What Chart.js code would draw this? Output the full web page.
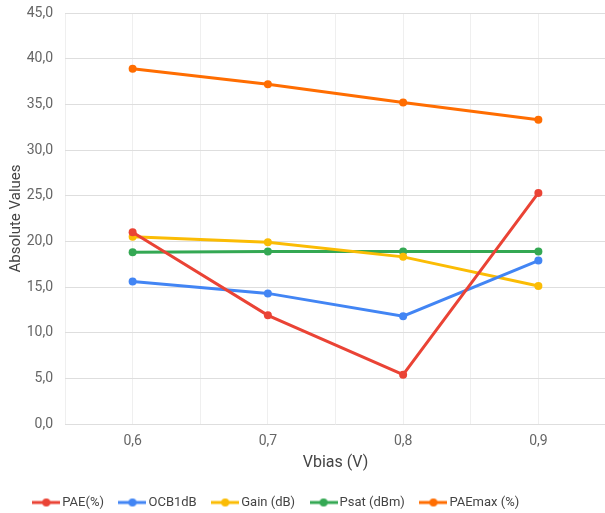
<!DOCTYPE html>
<html>
<head>
<meta charset="utf-8">
<script src="https://cdn.jsdelivr.net/npm/chart.js@4"></script>
<style>
  html, body { margin: 0; padding: 0; background: #fff; overflow: hidden; }
  canvas { display: block; }
</style>
</head>
<body>
<canvas id="chart" width="610" height="513"></canvas>
<script>
const vbias = [0.6, 0.7, 0.8, 0.9];
const pae = [21.0, 11.9, 5.4, 25.3];
const ocb1db = [15.6, 14.3, 11.8, 17.9];
const gain = [20.5, 19.9, 18.3, 15.1];
const psat = [18.8, 18.9, 18.9, 18.9];
const paeMax = [38.9, 37.2, 35.2, 33.3];
const yTicks = [0, 5, 10, 15, 20, 25, 30, 35, 40, 45];

const fontFamily = 'Roboto, "Liberation Sans", sans-serif';
const tickColor = '#666666';
const textColor = '#444444';

// legend marker: short line with a dot in the middle
function legendIcon(color) {
  const c = document.createElement('canvas');
  c.width = 28; c.height = 10;
  const g = c.getContext('2d');
  g.strokeStyle = color;
  g.lineWidth = 3;
  g.beginPath(); g.moveTo(0, 5); g.lineTo(28, 5); g.stroke();
  g.fillStyle = color;
  g.beginPath(); g.arc(14, 5, 4, 0, Math.PI * 2); g.fill();
  return c;
}

const toPoints = vals => vals.map((v, i) => ({ x: vbias[i], y: v }));

function series(label, vals, color) {
  return {
    label,
    data: toPoints(vals),
    borderColor: color,
    backgroundColor: color,
    borderWidth: 3,
    pointRadius: 4,
    pointBackgroundColor: color,
    pointBorderWidth: 0,
    icon: legendIcon(color),
    tension: 0
  };
}

const datasets = [
  series('PAE(%)', pae, '#EA4335'),
  series('OCB1dB', ocb1db, '#4285F4'),
  series('Gain (dB)', gain, '#FBBC04'),
  series('Psat (dBm)', psat, '#34A853'),
  series('PAEmax (%)', paeMax, '#FF6D01')
];

// nudge the legend so it sits where the original has it
const legendShift = {
  id: 'legendShift',
  afterLayout(chart) {
    const l = chart.legend;
    l.left -= 27; l.right -= 27;
    l.top += 6; l.bottom += 6;
  }
};

new Chart(document.getElementById('chart'), {
  type: 'line',
  data: { datasets },
  plugins: [legendShift],
  options: {
    responsive: false,
    animation: false,
    devicePixelRatio: 1,
    layout: { padding: 0 },
    plugins: {
      legend: {
        position: 'bottom',
        labels: {
          usePointStyle: true,
          pointStyleWidth: 19,
          color: textColor,
          font: { family: fontFamily, size: 13 },
          padding: 19,
          boxHeight: 10,
          generateLabels: chart => chart.data.datasets.map((d, i) => ({
            text: d.label,
            pointStyle: d.icon,
            fillStyle: d.borderColor,
            strokeStyle: d.borderColor,
            lineWidth: 0,
            fontColor: textColor,
            datasetIndex: i,
            hidden: !chart.isDatasetVisible(i)
          }))
        }
      },
      tooltip: { enabled: false }
    },
    scales: {
      x: {
        type: 'linear',
        min: 0.55,
        max: 0.95,
        afterBuildTicks: s => {
          s.ticks = [0.55, 0.6, 0.65, 0.7, 0.75, 0.8, 0.85, 0.9, 0.95].map(v => ({ value: v }));
        },
        afterFit: s => { s.height = 47; s.paddingRight = 0; s.paddingLeft = 0; },
        ticks: {
          color: tickColor,
          font: { family: fontFamily, size: 14 },
          maxRotation: 0,
          autoSkip: false,
          padding: 9,
          callback: v => {
            const r = Math.round(v * 100);
            return (r % 10 === 0) ? (r / 100).toFixed(1).replace('.', ',') : '';
          }
        },
        grid: { color: '#efefef', drawTicks: false },
        border: { display: false },
        title: {
          display: true,
          text: 'Vbias (V)',
          color: textColor,
          font: { family: fontFamily, size: 16 },
          padding: { top: 4, bottom: -2 }
        }
      },
      y: {
        min: 0,
        max: 45,
        afterBuildTicks: s => { s.ticks = yTicks.map(v => ({ value: v })); },
        afterFit: s => { s.width = 65; s.paddingTop = 13; },
        ticks: {
          color: tickColor,
          font: { family: fontFamily, size: 14 },
          padding: 12,
          callback: v => v.toFixed(1).replace('.', ',')
        },
        grid: { color: '#dedede', drawTicks: false },
        border: { display: false },
        title: {
          display: true,
          text: 'Absolute Values',
          color: textColor,
          font: { family: fontFamily, size: 15 },
          padding: { top: 7, bottom: 4 }
        }
      }
    }
  }
});
</script>
</body>
</html>
